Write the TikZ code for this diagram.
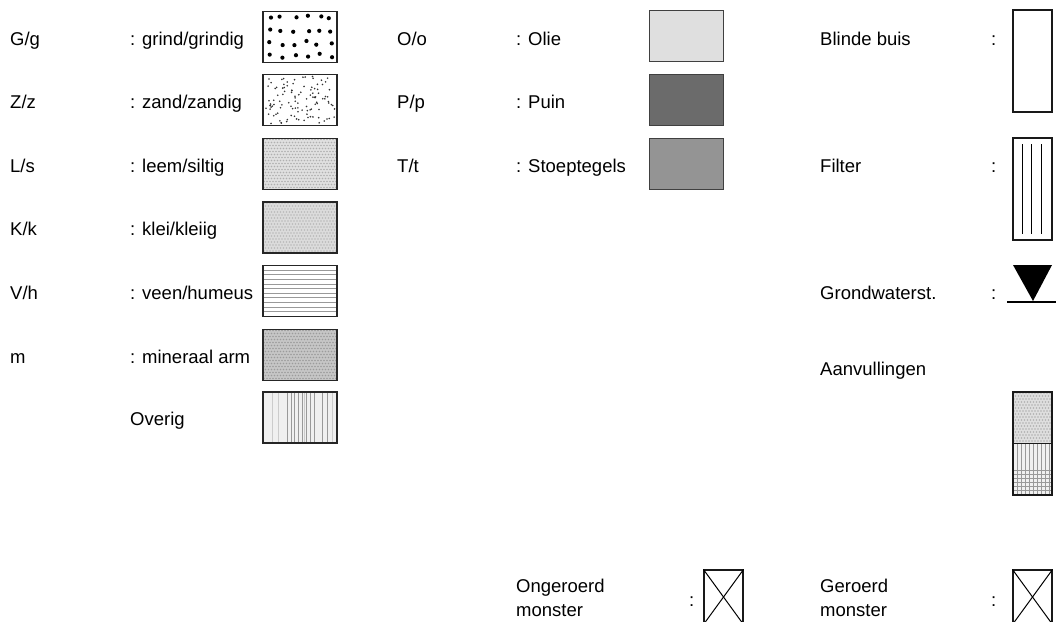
\documentclass[tikz,border=0pt]{standalone}
\usepackage{fontspec}
\setmainfont{Liberation Sans}
\begin{document}
\begin{tikzpicture}[x=1pt,y=-1pt,
  lbl/.style={anchor=base west, inner sep=0pt, font=\fontsize{18.5}{22}\selectfont},
  swatch/.style={draw=black!85, line width=1.6pt, minimum width=74pt, minimum height=51pt, inner sep=0pt},
  tube/.style={draw=black!90, line width=1.3pt, minimum width=39pt, inner sep=0pt},
  finedots/.style 2 args={fill=#1, path picture={
      \path (path picture bounding box.north west) coordinate (pp);
      \foreach \i in {0,...,26}{\foreach \j in {0,...,35}{
        \pgfmathtruncatemacro\odd{mod(\j,2)}
        \fill[#2] ([shift={(1+\i*3+\odd*1.5,1+\j*3)}]pp) circle (0.8pt);}}
  }},
]
\useasboundingbox (0,0) rectangle (1056,621);

% ---------- soil types ----------
\node[lbl] (tG) at (10,45) {G/g};
\node[lbl] (dG) at (130,45) {: grind/grindig};
\node[swatch, path picture={
    \path (path picture bounding box.north west) coordinate (pp);
    \pgfmathsetseed{11}
    \foreach \c in {0,...,5}{\foreach \r in {0,...,3}{
      \pgfmathsetmacro\rx{6+\c*12.4+rand*3}
      \pgfmathsetmacro\ry{6+\r*12.8+rand*2.5}
      \fill ([shift={(\rx,\ry)}]pp) circle (2.1pt);}}
  }] (sG) at (300,37) {};

\node[lbl] (tZ) at (10,108) {Z/z};
\node[lbl] (dZ) at (130,108) {: zand/zandig};
\node[swatch, path picture={
    \path (path picture bounding box.north west) coordinate (pp);
    \pgfmathsetseed{5}
    \foreach \k in {1,...,110}{
      \pgfmathsetmacro\rx{2+rnd*70}
      \pgfmathsetmacro\ry{2+rnd*47}
      \fill[black!80] ([shift={(\rx,\ry)}]pp) circle (0.9pt);}
  }] (sZ) at (300,100) {};

\node[lbl] (tL) at (10,172) {L/s};
\node[lbl] (dL) at (130,172) {: leem/siltig};
\node[swatch, finedots={gray!24}{gray!62}] (sL) at (300,164) {};

\node[lbl] (tK) at (10,235.5) {K/k};
\node[lbl] (dK) at (130,235.5) {: klei/kleiig};
\node[swatch, finedots={gray!28}{gray!55}] (sK) at (300,227.5) {};

\node[lbl] (tV) at (10,299) {V/h};
\node[lbl] (dV) at (130,299) {: veen/humeus};
\node[swatch, path picture={
    \path (path picture bounding box.north west) coordinate (pp);
    \foreach \k in {1,...,10}{
      \draw[gray!80, line width=0.8pt] ([shift={(0,\k*4.6)}]pp) -- ++(74,0);}
  }] (sV) at (300,291) {};

\node[lbl] (tm) at (10,363) {m};
\node[lbl] (dm) at (130,363) {: mineraal arm};
\node[swatch, finedots={gray!45}{gray!78}] (sm) at (300,355) {};

\node[lbl] (dO) at (130,425.5) {Overig};
\node[swatch, fill=gray!12, path picture={
    \path (path picture bounding box.north west) coordinate (pp);
    \foreach \dx in {9,15,41,69}{
      \draw[gray!40, line width=0.8pt] ([shift={(\dx,0)}]pp) -- ++(0,51);}
    \foreach \dx in {24,28,31,35,39,43,47,51,59,64}{
      \draw[gray!80, line width=0.8pt] ([shift={(\dx,0)}]pp) -- ++(0,51);}
  }] (sO) at (300,417.5) {};

% ---------- other materials ----------
\node[lbl] (tOl) at (397,45) {O/o};
\node[lbl] (dOl) at (516,45) {: Olie};
\node[swatch, draw=black!75, fill=gray!25] (sOl) at (686.5,36) {};

\node[lbl] (tP) at (397,108) {P/p};
\node[lbl] (dP) at (516,108) {: Puin};
\node[swatch, draw=black!75, fill=black!58] (sP) at (686.5,100) {};

\node[lbl] (tT) at (397,172) {T/t};
\node[lbl] (dT) at (516,172) {: Stoeptegels};
\node[swatch, draw=black!75, fill=black!42] (sT) at (686.5,164) {};

% ---------- well construction ----------
\node[lbl] (tB) at (820,45) {Blinde buis};
\node[lbl] (cB) at (991,45) {:};
\node[tube, minimum height=102pt] (sB) at (1032.5,61) {};

\node[lbl] (tF) at (820,172) {Filter};
\node[lbl] (cF) at (991,172) {:};
\node[tube, minimum height=102pt] (sF) at (1032.5,189) {};
\draw[line width=1pt] ([shift={(10,7)}]sF.north west) -- ([shift={(10,-7)}]sF.south west);
\draw[line width=1pt] ([shift={(19.5,7)}]sF.north west) -- ([shift={(19.5,-7)}]sF.south west);
\draw[line width=1pt] ([shift={(29,7)}]sF.north west) -- ([shift={(29,-7)}]sF.south west);

\node[lbl] (tW) at (820,299) {Grondwaterst.};
\node[lbl] (cW) at (991,299) {:};
\coordinate (wl) at (1007,302);
\coordinate (wr) at (1056,302);
\fill (1013,265) -- (1052,265) -- (1033,301) -- cycle;
\draw[line width=1.5pt] (wl) -- (wr);

\node[lbl] (tA) at (820,375) {Aanvullingen};
\node[tube, minimum height=51.5pt, line width=1.5pt, finedots={gray!26}{gray!62}] (sA1) at (1032.5,417.75) {};
\node[tube, minimum height=51.5pt, line width=1.5pt, fill=gray!12, path picture={
    \path (path picture bounding box.north west) coordinate (pp);
    \foreach \dx in {4,8,...,36}{
      \draw[gray!80, line width=0.8pt] ([shift={(\dx,0)}]pp) -- ++(0,52);}
    \foreach \dy in {27,31,...,51}{
      \draw[gray!80, line width=0.8pt] ([shift={(0,\dy)}]pp) -- ++(39,0);}
  }] (sA2) at (1032.5,469.25) {};

% ---------- samples ----------
\node[lbl] (tU1) at (516,592) {Ongeroerd};
\node[lbl] (tU2) at (516,616) {monster};
\node[lbl] (cU) at (689,606) {:};
\node[tube, minimum height=54pt, line width=1.1pt] (sU) at (723.5,597) {};
\draw[line width=1pt] (sU.north west) -- (sU.south east);
\draw[line width=1pt] (sU.north east) -- (sU.south west);

\node[lbl] (tR1) at (820,592) {Geroerd};
\node[lbl] (tR2) at (820,616) {monster};
\node[lbl] (cR) at (991,606) {:};
\node[tube, minimum height=54pt, line width=1.1pt] (sR) at (1032.5,597) {};
\draw[line width=1pt] (sR.north west) -- (sR.south east);
\draw[line width=1pt] (sR.north east) -- (sR.south west);
\end{tikzpicture}
\end{document}
